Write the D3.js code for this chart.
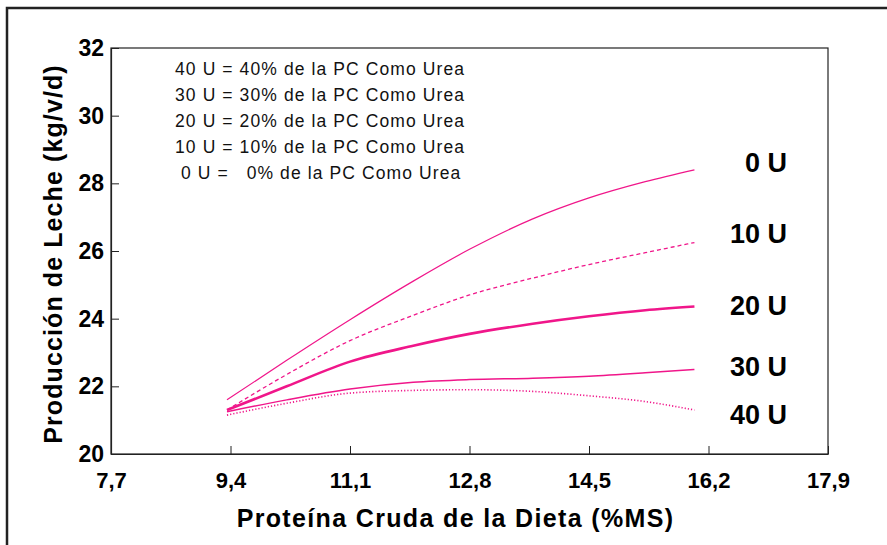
<!DOCTYPE html>
<html>
<head>
<meta charset="utf-8">
<script src="https://cdn.jsdelivr.net/npm/d3@7"></script>
<style>
  html, body { margin: 0; padding: 0; background: #fff; }
  svg { display: block; font-family: "Liberation Sans", Arial, sans-serif; }
</style>
</head>
<body>
<div id="chart"></div>
<script>
// protein levels (% DM) where the curves are read
const proteina = [9.35, 10.2, 11.1, 12.0, 12.8, 13.7, 14.5, 15.3, 16.0];

// milk yield (kg/cow/d) per urea level
const series = ['0 U', '10 U', '20 U', '30 U', '40 U'];
const leche0  = [21.6, 22.77, 23.97, 25.11, 26.05, 26.95, 27.57, 28.05, 28.4];
const leche10 = [21.3, 22.35, 23.35, 24.1, 24.7, 25.2, 25.6, 25.95, 26.25];
const leche20 = [21.3, 22.0, 22.73, 23.2, 23.55, 23.85, 24.07, 24.25, 24.36];
const leche30 = [21.25, 21.6, 21.92, 22.12, 22.2, 22.24, 22.3, 22.4, 22.5];
const leche40 = [21.15, 21.5, 21.8, 21.88, 21.9, 21.85, 21.72, 21.55, 21.3];

const xTicks = [7.7, 9.4, 11.1, 12.8, 14.5, 16.2, 17.9];
const yTicks = [20, 22, 24, 26, 28, 30, 32];

const leyenda = [
  '40 U = 40% de la PC Como Urea',
  '30 U = 30% de la PC Como Urea',
  '20 U = 20% de la PC Como Urea',
  '10 U = 10% de la PC Como Urea',
  ' 0 U =   0% de la PC Como Urea'
];

const width = 887, height = 545;
const margin = {top: 48, right: 59, bottom: 91, left: 111};
const pink = '#f0168a';

const svg = d3.select('#chart').append('svg')
  .attr('width', width)
  .attr('height', height);

// outer frame (left + top only)
svg.append('path')
  .attr('d', 'M7,' + height + 'V8H' + width)
  .attr('fill', 'none')
  .attr('stroke', '#222')
  .attr('stroke-width', 2.5);

const x = d3.scaleLinear().domain([7.7, 17.9]).range([margin.left, width - margin.right]);
const y = d3.scaleLinear().domain([20, 32]).range([height - margin.bottom, margin.top]);

// plot box
svg.append('rect')
  .attr('x', x(7.7))
  .attr('y', y(32))
  .attr('width', x(17.9) - x(7.7))
  .attr('height', y(20) - y(32))
  .attr('fill', 'none')
  .attr('stroke', '#222')
  .attr('stroke-width', 1.2);

const fmt = d => d.toFixed(1).replace('.', ',');

const xAxis = svg.append('g')
  .attr('transform', 'translate(0,' + y(20) + ')')
  .call(d3.axisBottom(x).tickValues(xTicks).tickFormat(fmt)
    .tickSizeInner(-8).tickSizeOuter(0).tickPadding(18));

const yAxis = svg.append('g')
  .attr('transform', 'translate(' + x(7.7) + ',0)')
  .call(d3.axisLeft(y).tickValues(yTicks).tickFormat(d3.format('d'))
    .tickSizeInner(-8).tickSizeOuter(0).tickPadding(7));

[xAxis, yAxis].forEach(g => {
  g.select('.domain').attr('stroke', '#222').attr('stroke-width', 1.2);
  g.selectAll('.tick line').attr('stroke', '#222');
  g.selectAll('.tick text')
    .attr('fill', '#000')
    .style('font-family', '"Liberation Sans", Arial, sans-serif')
    .style('font-weight', 'bold');
});
xAxis.selectAll('.tick text').style('font-size', '22px');
yAxis.selectAll('.tick text').style('font-size', '23px');

// axis titles
svg.append('text')
  .attr('x', (x(7.7) + x(17.9)) / 2 - 14)
  .attr('y', 527)
  .attr('text-anchor', 'middle')
  .style('font-size', '25px')
  .style('font-weight', 'bold')
  .style('letter-spacing', '1.35px')
  .text('Proteína Cruda de la Dieta (%MS)');

svg.append('text')
  .attr('transform', 'translate(62,254) rotate(-90)')
  .attr('text-anchor', 'middle')
  .style('font-size', '25px')
  .style('font-weight', 'bold')
  .style('letter-spacing', '1.1px')
  .text('Producción de Leche (kg/v/d)');

// legend text block
svg.append('g').selectAll('text')
  .data(leyenda)
  .enter().append('text')
  .attr('x', 175)
  .attr('y', (d, i) => 75 + i * 26)
  .attr('xml:space', 'preserve')
  .style('white-space', 'pre')
  .style('font-size', '17.5px')
  .style('letter-spacing', '1.1px')
  .attr('fill', '#111')
  .text(d => d);

// curves
const valores = [leche0, leche10, leche20, leche30, leche40];
const estilos = [
  {w: 1.2, dash: null},
  {w: 1.3, dash: '4,3'},
  {w: 2.6, dash: null},
  {w: 1.5, dash: null},
  {w: 1.6, dash: '1.2,2'}
];

const line = d3.line()
  .x((d, i) => x(proteina[i]))
  .y(d => y(d))
  .curve(d3.curveMonotoneX);

svg.append('g').selectAll('path')
  .data(valores)
  .enter().append('path')
  .attr('d', line)
  .attr('fill', 'none')
  .attr('stroke', pink)
  .attr('stroke-width', (d, i) => estilos[i].w)
  .attr('stroke-dasharray', (d, i) => estilos[i].dash);

// series labels at the right end
const nudge = [-8, -9, -1, -3, 4];
svg.append('g').selectAll('text')
  .data(series)
  .enter().append('text')
  .attr('x', 787)
  .attr('y', (d, i) => y(valores[i][valores[i].length - 1]) + nudge[i])
  .attr('dy', '0.36em')
  .attr('text-anchor', 'end')
  .style('font-size', '27px')
  .style('font-weight', 'bold')
  .text(d => d);
</script>
</body>
</html>
